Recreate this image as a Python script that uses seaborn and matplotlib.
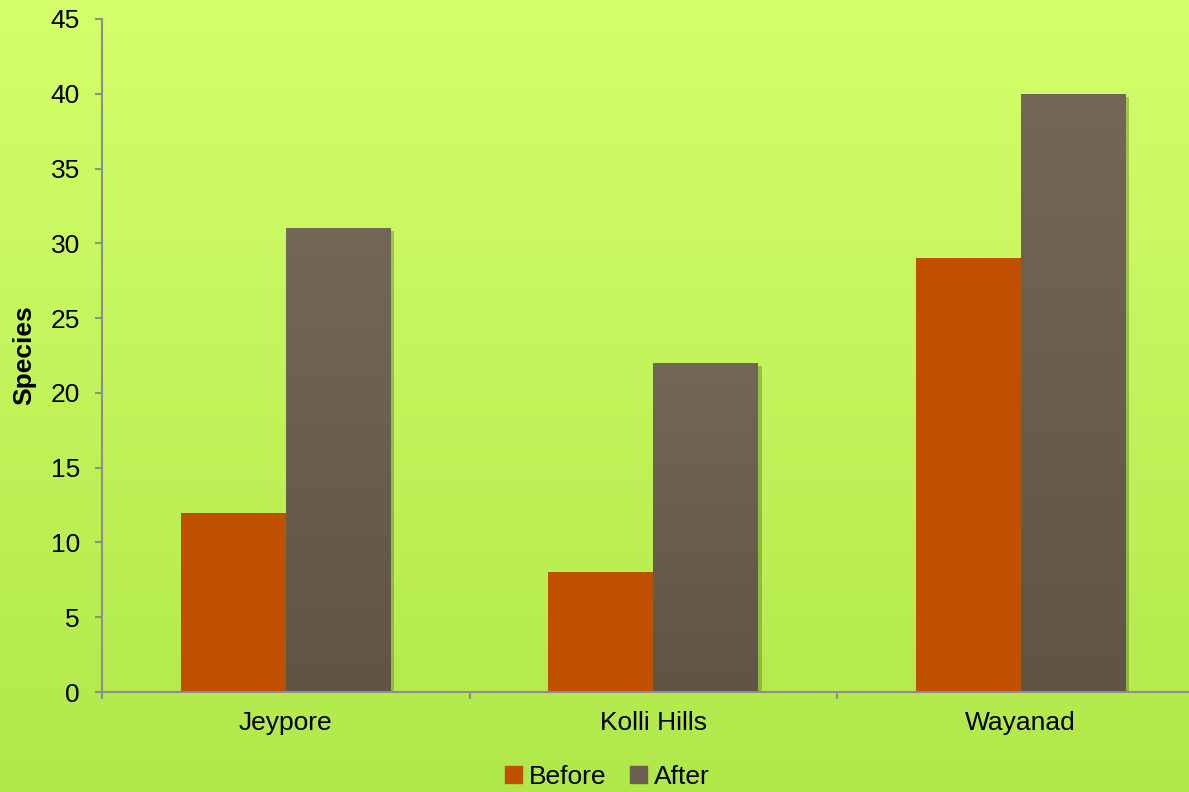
import numpy as np
import pandas as pd
import matplotlib
matplotlib.use('Agg')
import matplotlib.pyplot as plt
import seaborn as sns
from matplotlib import patheffects as pe
from matplotlib.colors import LinearSegmentedColormap

categories = ['Jeypore', 'Kolli Hills', 'Wayanad']
before = [12, 8, 29]
after = [31, 22, 40]
series_names = ['Before', 'After']
yticks = [0, 5, 10, 15, 20, 25, 30, 35, 40, 45]

df = pd.DataFrame({
    'Site': categories * 2,
    'Series': ['Before'] * len(categories) + ['After'] * len(categories),
    'Species': before + after,
})

sns.set_theme(style='white')
plt.rcParams['font.family'] = ['Liberation Sans', 'DejaVu Sans']
plt.rcParams['text.color'] = 'black'

W, H = 1189, 792
fig = plt.figure(figsize=(W / 100, H / 100), dpi=100)

# background gradient
bg = fig.add_axes([0, 0, 1, 1], zorder=-10)
grad = np.linspace(0, 1, 256).reshape(-1, 1)
bg_cmap = LinearSegmentedColormap.from_list('bg', ['#D4FF6A', '#B0E84A'])
bg.imshow(grad, aspect='auto', cmap=bg_cmap, extent=[0, 1, 0, 1])
bg.axis('off')

x0, x1 = 102, 102 + 3 * 367.5
y0, y1 = 692, 19
ax = fig.add_axes([x0 / W, 1 - y0 / H, (x1 - x0) / W, (y0 - y1) / H])
ax.set_facecolor('none')

palette = {'Before': '#C04F00', 'After': '#6B5F4F'}
sns.barplot(data=df, x='Site', y='Species', hue='Series', hue_order=series_names,
            order=categories, palette=palette, width=0.571, saturation=1,
            linewidth=0, ax=ax, legend=True)

shadow = [pe.SimplePatchShadow(offset=(2.5, -2), shadow_rgbFace='#3a4a10', alpha=0.3), pe.Normal()]
after_cmap = LinearSegmentedColormap.from_list('af', ['#746757', '#5F5445'])
for i, cont in enumerate(ax.containers):
    for p in cont.patches:
        p.set_path_effects(shadow)
        if series_names[i] == 'After':
            bx, by = p.get_x(), p.get_y()
            bw, bh = p.get_width(), p.get_height()
            im = ax.imshow(grad, aspect='auto', cmap=after_cmap,
                           extent=[bx, bx + bw, by, by + bh], zorder=p.get_zorder() + 0.1)
            im.set_clip_path(p)

ax.set_xlim(-0.5, 2.5)
ax.set_ylim(0, 45)
ax.set_yticks(yticks)
ax.set_yticklabels([str(v) for v in yticks])
ax.set_xticks(range(len(categories)))
ax.set_xticklabels(categories)
ax.set_xticks([-0.5, 0.5, 1.5, 2.5], minor=True)

axis_color = '#8E8E8E'
for s in ['top', 'right']:
    ax.spines[s].set_visible(False)
for s in ['left', 'bottom']:
    ax.spines[s].set_color(axis_color)
    ax.spines[s].set_linewidth(1.5)

ax.tick_params(axis='y', which='major', left=True, length=5, width=1.5, color=axis_color,
               direction='out', pad=11, labelsize=19, labelcolor='black')
ax.tick_params(axis='x', which='major', bottom=False, length=0, pad=14, labelsize=19,
               labelcolor='black')
ax.tick_params(axis='x', which='minor', bottom=True, length=5, width=1.5, color=axis_color,
               direction='out')

ax.set_xlabel('')
ax.set_ylabel('Species', fontsize=19, fontweight='bold', labelpad=10, color='black')

leg = ax.get_legend()
if leg is not None:
    leg.remove()
handles = [plt.Rectangle((0, 0), 1, 1, color=palette[n]) for n in series_names]
fig.legend(handles, series_names, loc='center', bbox_to_anchor=(0.511, 0.019),
           ncol=2, frameon=False, fontsize=19, handlelength=0.65, handleheight=0.65,
           handletextpad=0.25, columnspacing=0.9, labelcolor='black')

fig.savefig('out.png', dpi=100)
